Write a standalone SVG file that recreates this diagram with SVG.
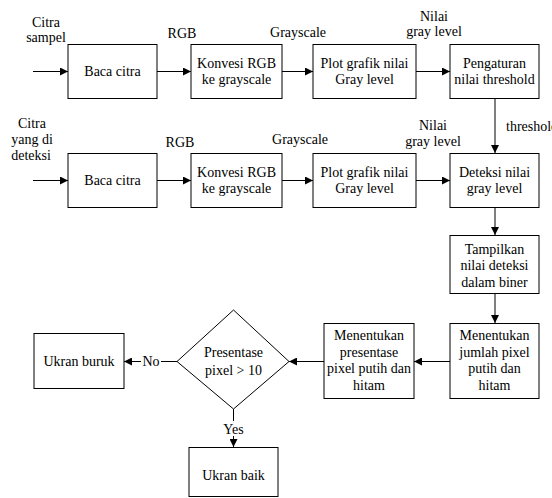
<svg xmlns="http://www.w3.org/2000/svg" width="552" height="498" viewBox="0 0 552 498" font-family="Liberation Serif, DejaVu Serif, serif" font-size="14">
<style>
text{fill:#000;text-anchor:middle;font-family:"Liberation Serif","DejaVu Serif",serif}
.b{fill:#fff;stroke:#000;stroke-width:1}
.c{fill:none;stroke:#000;stroke-width:1}
.l{text-anchor:start}
</style>
<defs>
<marker id="ah" viewBox="0 0 10 10" refX="10" refY="5" markerWidth="8" markerHeight="8" markerUnits="userSpaceOnUse" orient="auto">
<path d="M0,0 L10,5 L0,10 Z" fill="#000"/>
</marker>
</defs>
<rect width="552" height="498" fill="#fff"/>
<g id="connectors">
<line class="c" x1="33" y1="71.5" x2="68" y2="71.5" marker-end="url(#ah)"/>
<line class="c" x1="157" y1="71.5" x2="191" y2="71.5" marker-end="url(#ah)"/>
<line class="c" x1="282" y1="71.5" x2="313" y2="71.5" marker-end="url(#ah)"/>
<line class="c" x1="416" y1="71.5" x2="450" y2="71.5" marker-end="url(#ah)"/>
<line class="c" x1="33" y1="180.5" x2="68" y2="180.5" marker-end="url(#ah)"/>
<line class="c" x1="157" y1="180.5" x2="191" y2="180.5" marker-end="url(#ah)"/>
<line class="c" x1="282" y1="180.5" x2="313" y2="180.5" marker-end="url(#ah)"/>
<line class="c" x1="416" y1="180.5" x2="450" y2="180.5" marker-end="url(#ah)"/>
<line class="c" x1="495" y1="98" x2="495" y2="153" marker-end="url(#ah)"/>
<line class="c" x1="495" y1="207" x2="495" y2="235" marker-end="url(#ah)"/>
<line class="c" x1="495" y1="293" x2="495" y2="323" marker-end="url(#ah)"/>
<line class="c" x1="450" y1="361.5" x2="414" y2="361.5" marker-end="url(#ah)"/>
<line class="c" x1="324" y1="361.5" x2="289" y2="361.5" marker-end="url(#ah)"/>
<line class="c" x1="177" y1="361.5" x2="161" y2="361.5"/>
<line class="c" x1="141" y1="361.5" x2="124" y2="361.5" marker-end="url(#ah)"/>
<text x="151" y="366">No</text>
<line class="c" x1="233.5" y1="409" x2="233.5" y2="421"/>
<line class="c" x1="233.5" y1="436" x2="233.5" y2="447" marker-end="url(#ah)"/>
<text x="233.5" y="434">Yes</text>
<text x="46" y="27">Citra</text>
<text x="46" y="42">sampel</text>
<text x="182" y="38">RGB</text>
<text x="298" y="37">Grayscale</text>
<text x="434" y="21">Nilai</text>
<text x="434" y="36">gray level</text>
<text x="32" y="128">Citra</text>
<text x="32" y="144">yang di</text>
<text x="31" y="160">deteksi</text>
<text x="180" y="147">RGB</text>
<text x="300" y="144">Grayscale</text>
<text x="433" y="130">Nilai</text>
<text x="433" y="146">gray level</text>
<text class="l" x="506" y="131">threshold</text>
</g>
<g id="baca1"><rect class="b" x="68" y="44.5" width="89" height="54"/><text x="112.5" y="76">Baca citra</text></g>
<g id="konv1"><rect class="b" x="191" y="44.5" width="91" height="54"/><text x="236.5" y="68">Konvesi RGB</text><text x="236.5" y="84">ke grayscale</text></g>
<g id="plot1"><rect class="b" x="313" y="44.5" width="103" height="54"/><text x="364.5" y="68">Plot grafik nilai</text><text x="364.5" y="84">Gray level</text></g>
<g id="peng"><rect class="b" x="450" y="44.5" width="89" height="54"/><text x="494.5" y="68">Pengaturan</text><text x="494.5" y="84">nilai threshold</text></g>
<g id="baca2"><rect class="b" x="68" y="153.5" width="89" height="54"/><text x="112.5" y="185">Baca citra</text></g>
<g id="konv2"><rect class="b" x="191" y="153.5" width="91" height="54"/><text x="236.5" y="177">Konvesi RGB</text><text x="236.5" y="193">ke grayscale</text></g>
<g id="plot2"><rect class="b" x="313" y="153.5" width="103" height="54"/><text x="364.5" y="177">Plot grafik nilai</text><text x="364.5" y="193">Gray level</text></g>
<g id="deteksi"><rect class="b" x="450" y="153.5" width="89" height="54"/><text x="494.5" y="177">Deteksi nilai</text><text x="494.5" y="193">gray level</text></g>
<g id="tampil"><rect class="b" x="450" y="235.5" width="89" height="58"/><text x="494.5" y="254">Tampilkan</text><text x="494.5" y="270">nilai deteksi</text><text x="494.5" y="287">dalam biner</text></g>
<g id="jumlah"><rect class="b" x="450" y="323.5" width="89" height="75"/><text x="494.5" y="340">Menentukan</text><text x="494.5" y="357">jumlah pixel</text><text x="494.5" y="373">putih dan</text><text x="494.5" y="390">hitam</text></g>
<g id="presentase"><rect class="b" x="324" y="323.5" width="90" height="75"/><text x="369" y="340">Menentukan</text><text x="369" y="357">presentase</text><text x="369" y="373">pixel putih dan</text><text x="369" y="390">hitam</text></g>
<g id="decision"><polygon class="b" points="233.5,310 289,361.5 233.5,409 177,361.5"/><text x="233.5" y="357">Presentase</text><text x="233.5" y="375">pixel &gt; 10</text></g>
<g id="buruk"><rect class="b" x="34" y="333.5" width="90" height="55"/><text x="79" y="366">Ukran buruk</text></g>
<g id="baik"><rect class="b" x="189" y="447.5" width="89" height="49"/><text x="233.5" y="480">Ukran baik</text></g>
</svg>
